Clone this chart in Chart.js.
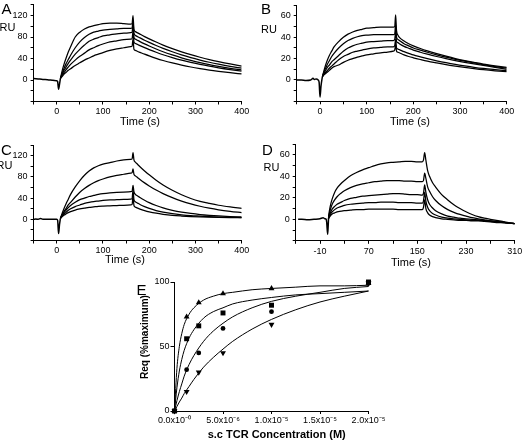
<!DOCTYPE html>
<html><head><meta charset="utf-8">
<script src="https://cdn.jsdelivr.net/npm/chart.js@4"></script>
<style>
html,body{margin:0;padding:0;background:#fff;width:523px;height:443px;overflow:hidden;position:relative;font-family:'Liberation Sans',Arial,sans-serif;}
canvas{position:absolute;}
.t{position:absolute;color:#000;white-space:nowrap;transform:translate(-50%,-50%);line-height:1;}
</style></head><body>
<canvas id="cA"></canvas><canvas id="cB"></canvas><canvas id="cC"></canvas><canvas id="cD"></canvas><canvas id="cE"></canvas>
<div class="t" style="left:6.5px;top:8px;font-size:15px">A</div>
<div class="t" style="left:266px;top:7.5px;font-size:15px">B</div>
<div class="t" style="left:6.5px;top:148.5px;font-size:15px">C</div>
<div class="t" style="left:267.5px;top:149px;font-size:15px">D</div>
<div class="t" style="left:141.5px;top:289px;font-size:15px">E</div>
<div class="t" style="left:7.5px;top:26.7px;font-size:11px">RU</div>
<div class="t" style="left:269px;top:28.8px;font-size:11px">RU</div>
<div class="t" style="left:4.5px;top:165px;font-size:11px">RU</div>
<div class="t" style="left:271.5px;top:167.3px;font-size:11px">RU</div>
<div class="t" style="left:140px;top:121px;font-size:11px">Time (s)</div>
<div class="t" style="left:410px;top:121px;font-size:11px">Time (s)</div>
<div class="t" style="left:125px;top:259px;font-size:11px">Time (s)</div>
<div class="t" style="left:411px;top:261.5px;font-size:11px">Time (s)</div>
<div class="t" style="left:276.7px;top:434px;font-size:11px;font-weight:bold">s.c TCR Concentration (M)</div>
<div class="t" style="left:145px;top:337px;font-size:10px;font-weight:bold;transform:translate(-50%,-50%) rotate(-90deg)">Req (%maximum)</div>
<script>
// ---------- Panel A ----------
const baseTimeA = [-50,-40,-30,-20,-10,-5,0,2,4,6,8];
const baseA = [3,2,1,0.5,-0.5,-1,-1.5,-3,-17,-8,3];
const timeA = [8,12,16,20,25,30,40,50,60,70,80,90,100,115,130,145,160,163,165,167,170,175,180,190,200,215,230,250,270,290,310,330,350,375,400];
const A1 = [3,18,30,40,52,62,80,89,95,99,101,103,105,106,106,105,104,105,120,94,90,87.6,85.3,80.8,76.6,70.6,65,58.4,52.5,47.1,42.3,38,34.2,29.9,26];
const A2 = [3,13,22,30,38,46,60,71,79,85,89,91,93,94,95,96,96,97,110,87,83,80.6,78.4,74,69.9,64.1,58.8,52.5,46.7,41.6,37.1,33,29.4,25.4,22];
const A3 = [3,11,18,24,31,37,48,57,65,72,76,79,82,84,86,87,88,89,102,79,76,73.7,71.5,67.3,63.3,57.6,52.5,46.6,41.2,36.5,32.3,28.6,25.3,21.7,18.6];
const A4 = [3,9,14,19,24,29,37,44,50,56,60,64,67,71,73,75,76,77,90,71,68,66,64,60.2,56.6,51.6,47,41.7,36.9,32.7,28.9,25.6,22.7,19.5,16.7];
const A5 = [3,7,11,14,18,21,27,32,37,41,45,48,51,55,58,60,62,63,76,57,55,53.1,51.4,48,44.8,40.3,36.3,31.7,27.7,24.2,21.2,18.5,16.2,13.6,11.2];

// ---------- Panel B ----------
const baseTimeB = [-50,-40,-30,-20,-15,-12,-8,-4,-2,0,2,5];
const baseB = [0,0,-0.5,0,1.5,0.5,1,0,-2,-16,-6,3];
const timeB = [5,8,12,16,20,25,30,40,50,60,70,80,90,100,115,130,145,157,160,162,164,167,170,180,190,200,215,230,250,270,290,310,330,350,375,400];
const B1 = [3,8,14,19,23,27,31,36,40,43,45,46.5,47.5,48.5,49,49.5,49.5,49.5,50,61,46,42,40,36.5,34,32,29.5,27.3,24.7,22.3,20.1,18.2,16.5,14.9,13.3,11.9];
const B2 = [3,7,11,15,18,22,25,30,34,37,39,40.5,41.5,42,42.5,42.5,42.5,42.5,43,52,40,38,37,34,32,30,28,26,23.6,21.4,19.4,17.6,15.9,14.4,12.6,11];
const B3 = [3,6,9,12,14,17,19,23,27,30,32,33.5,34.5,35.5,36,36.5,37,37,38,45,36,35,34,31.5,29.7,28,26,24.2,22,20,18.2,16.6,15.1,13.7,11.8,10];
const B4 = [3,5,7,9,11,13,15,19,22,24,26,27,28,29,30,30.5,31,31,32,38,30,29,28.5,26.5,25,23.5,21.7,20,18,16.2,14.6,13.2,11.9,10.8,9.7,8.7];
const B5 = [3,4.5,6,7.5,9,11,12.5,14,16.5,18.5,20,21.5,22.5,23.5,24.5,25.5,26.2,27,28,33,27,26,25.5,23.5,22,20.8,19.2,17.7,16,14.4,13,11.7,10.6,9.6,8.6,7.8];

// ---------- Panel C ----------
const baseTimeC = [-50,-45,-40,-35,-30,-20,-10,0,2,4,6,8];
const baseC = [0,0.5,0,1.5,0,0.3,0,0,-2,-27,-10,2];
const timeC = timeA;
const C1 = [2,12,21,29,38,47,61,73,83,91,97,101,104,107,110,112,113,114,126,112,108,103.5,99.2,91.3,83.9,73.7,64.7,54.7,46.3,39.3,34,30,26.5,23.3,20.7];
const C2 = [2,9,15,20,27,32,42,51,58,64,69,73,76,80,83,85,87,88,95,85,82,78.5,75,68.7,63,55.2,48.5,40.8,34.4,29,24.6,21,18,15,12.5];
const C3 = [2,8,13,17,22,26,32,37,40,43,45,47,48.5,50,51,51.5,52,53,64,52,47,44,41,36,31.5,26,21.5,17,13.5,11,9,7.5,6.3,5.2,4.5];
const C4 = [2,6,10,13,17,20,24,27,30,32,33.5,34.5,35.5,36.5,37,37.5,38,39,55,37,33,30.5,28,24,20.5,16.5,13.5,10.5,8.5,7,6,5,4.3,3.7,3.3];
const C5 = [2,5,8,10,12.5,14.5,17.5,19.5,21,22.5,23.5,24.5,25,25.5,26,26.5,27,28,43,26,23,21,19.3,16.5,14.2,11.5,9.5,7.5,6.2,5.2,4.5,4,3.6,3.2,3];

// ---------- Panel D ----------
const baseTimeD = [-46,-40,-30,-20,-10,-5,-2,0,1,2.5,3.5,4];
const baseD = [0,0,-0.5,0,0.5,1.5,0.5,0,-3,-14,-5,1.5];
const timeD = [4,6,8,10,14,18,25,30,40,50,60,70,80,90,100,110,120,130,140,150,158,160,162,164,167,170,175,180,190,200,210,220,230,240,250,260,270,280,290,300,310];
const D1 = [3,10,15,19,25,29,33.5,36,40.5,43.5,46,48,50,51.5,52.5,53,53.5,54,54,53.5,53.5,55,62,55,45,40,34,30,23,18,13.5,10,7,4.5,2.5,1,0,-1,-2,-3,-4];
const D2 = [2,7,11,14,18,21,24.5,26.5,29.5,31.5,33,34,35,35.5,36,36,36,35.5,35.5,35,35,36,43,38,30,26,21,17.5,12.5,9,6.5,4.5,3,1.5,0.5,-0.5,-1.5,-2,-2.5,-3.5,-4];
const D3 = [1.5,5,7.5,9.5,12,14,16,17.5,19.5,20.5,21.5,22,22.5,23,23.5,24,24,23.5,23,23,22.5,24,32,25,18,14,10.5,8,5,3,2,1,0.5,0,-0.5,-1,-1.5,-2,-2.5,-3.5,-4];
const D4 = [1,3.5,5.5,7,9,10.5,12,13,14,14.5,15,15.5,15.5,16,16,16,15.5,15.5,15.5,15,15,17,25,17,11,8,5.5,4,2,1,0.5,0,-0.5,-1,-1,-1.5,-2,-2.5,-3,-3.5,-4];
const D5 = [0.5,2.5,4,5,6,7,7.5,8,8.5,9,9,9.5,9.5,9.5,9.5,9.5,9,9,9,9,9,11,18,10,6,4,2.5,1.5,0.5,0,-0.5,-1,-1,-1.5,-1.5,-2,-2.5,-3,-3,-3.5,-4];

// ---------- Panel E ----------
const eConc = [0,1.25e-6,2.5e-6,5e-6,1e-5,2e-5];
const eTri = [0,73,84,91,95,99];
const eSq = [0,56,66,76,82,100];
const eCirc = [0,32,45,64,77,99];
const eDown = [0,15,30,45,67,99];
const fitX = [0,0.25e-6,0.5e-6,0.75e-6,1e-6,1.5e-6,2e-6,3e-6,4e-6,5e-6,6e-6,8e-6,1e-5,1.25e-5,1.5e-5,1.75e-5,2e-5];
const fitTri = [0,33,50,60,67,75,80,86,89,91,92,94,95,96,97,97,97.5];
const fitSq = [0,18,31,40,47,56.5,63,72,77,80,83,86,88,90,91,92,93];
const fitCirc = [0,8,15,21,27,36,43,54,62,68,73,80,85,89,92,95,96.5];
const fitDown = [0,3.5,7,10,13.5,19,24.5,34,41.5,48,54,63.5,71,78.5,84.5,89,93];
const eXLabels = ['0.0x10\u207B\u2070','5.0x10\u207B\u2076','1.0x10\u207B\u2075','1.5x10\u207B\u2075','2.0x10\u207B\u2075'];

const FONT = "'Liberation Sans', Arial, sans-serif";
const pts = (xs, ys) => xs.map((x, i) => ({x, y: ys[i]}));

function place(canvas, a) {
  const cl = Math.floor(a.l) - 40, ct = Math.floor(a.t) - 12;
  const cw = Math.ceil(a.r) + 25 - cl, ch = Math.ceil(a.b) + 30 - ct;
  canvas.width = cw; canvas.height = ch;
  canvas.style.left = cl + 'px'; canvas.style.top = ct + 'px';
  canvas.style.width = cw + 'px'; canvas.style.height = ch + 'px';
  return {yW: a.l - cl, xH: (ct + ch) - a.b, padTop: a.t - ct, padRight: (cl + cw) - a.r};
}

function axis(min, max, step, cb, fit, tickLen, pad) {
  return {
    type: 'linear', min, max,
    ticks: {stepSize: step, autoSkip: false, maxRotation: 0, minRotation: 0, padding: pad,
      color: '#000', font: {size: 9, family: FONT}, callback: cb},
    grid: {display: true, drawOnChartArea: false, drawTicks: true, tickLength: tickLen, color: '#000', lineWidth: 1},
    border: {display: true, color: '#000', width: 1},
    afterFit: fit
  };
}

function sensor(id, area, xr, yr, bt, bv, times, series, xcb, ycb) {
  const c = document.getElementById(id);
  const m = place(c, area);
  const line = (data, w) => ({data, showLine: true, pointRadius: 0, borderColor: '#000', borderWidth: w,
    cubicInterpolationMode: 'monotone', fill: false});
  const datasets = [line(pts(bt, bv), 1.5)].concat(series.map(s => line(pts(times, s), 1.25)));
  new Chart(c, {
    type: 'scatter',
    data: {datasets},
    options: {
      responsive: false, animation: false, devicePixelRatio: 1,
      layout: {padding: {top: m.padTop, right: m.padRight, left: 0, bottom: 0}},
      plugins: {legend: {display: false}, tooltip: {enabled: false}},
      scales: {
        x: axis(xr[0], xr[1], xr[2], xcb, s => { s.height = m.xH; }, 3, 2),
        y: axis(yr[0], yr[1], yr[2], ycb, s => { s.width = m.yW; }, 3, 3)
      }
    }
  });
}

const x100 = v => (v >= 0 && v % 100 === 0) ? String(v) : '';
sensor('cA', {l: 33.6, t: 4.75, r: 241.7, b: 101.5}, [-50, 400, 50], [-40, 140, 20], baseTimeA, baseA, timeA,
  [A1, A2, A3, A4, A5], x100, v => (v >= 0 && v <= 120 && v % 40 === 0) ? String(v) : '');
sensor('cB', {l: 296.7, t: 5.3, r: 506.7, b: 101.3}, [-50, 400, 50], [-20, 70, 10], baseTimeB, baseB, timeB,
  [B1, B2, B3, B4, B5], x100, v => (v >= 0 && v <= 60 && v % 20 === 0) ? String(v) : '');
sensor('cC', {l: 33.6, t: 145.1, r: 241.7, b: 240.5}, [-50, 400, 50], [-40, 140, 20], baseTimeC, baseC, timeC,
  [C1, C2, C3, C4, C5], x100, v => (v >= 0 && v <= 120 && v % 40 === 0) ? String(v) : '');
sensor('cD', {l: 295.7, t: 144.05, r: 514.7, b: 240.8}, [-50, 310, 40], [-20, 70, 10], baseTimeD, baseD, timeD,
  [D1, D2, D3, D4, D5], v => ((v + 10) % 80 === 0) ? String(v) : '', v => (v >= 0 && v <= 60 && v % 20 === 0) ? String(v) : '');

// Panel E
(function () {
  const c = document.getElementById('cE');
  const m = place(c, {l: 174.5, t: 282, r: 368.5, b: 411});
  const fit = d => ({data: pts(fitX, d), showLine: true, pointRadius: 0, borderColor: '#000', borderWidth: 1,
    cubicInterpolationMode: 'monotone', fill: false, clip: false});
  const mk = (d, style, rot, r) => ({data: pts(eConc, d), showLine: false, pointStyle: style, rotation: rot,
    pointRadius: r, backgroundColor: '#000', borderColor: '#000', borderWidth: 0, clip: false});
  new Chart(c, {
    type: 'scatter',
    data: {datasets: [
      mk(eSq, 'rect', 0, 3.5), mk(eTri, 'triangle', 0, 3.4), mk(eCirc, 'circle', 0, 2.4), mk(eDown, 'triangle', 180, 3.4),
      fit(fitTri), fit(fitSq), fit(fitCirc), fit(fitDown)
    ]},
    options: {
      responsive: false, animation: false, devicePixelRatio: 1,
      layout: {padding: {top: m.padTop, right: m.padRight, left: 0, bottom: 0}},
      plugins: {legend: {display: false}, tooltip: {enabled: false}},
      scales: {
        x: axis(0, 2e-5, 5e-6, (v, i) => eXLabels[i], s => { s.height = m.xH; }, 3, 1),
        y: axis(0, 100, 50, v => String(v), s => { s.width = m.yW; }, 4, 1)
      }
    }
  });
})();
</script>
</body></html>
